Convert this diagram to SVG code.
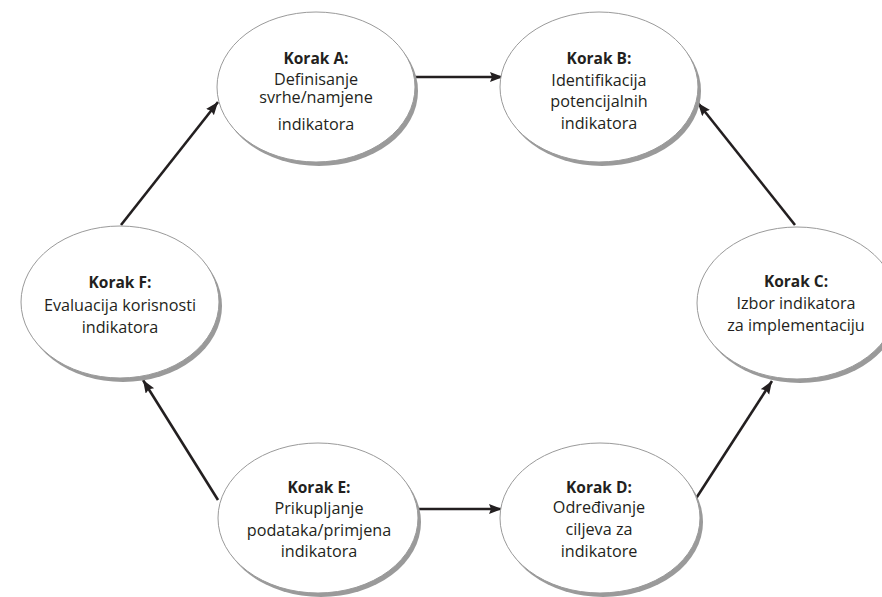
<svg xmlns="http://www.w3.org/2000/svg" width="882" height="597" viewBox="0 0 882 597">
<defs>
<marker id="ah" markerUnits="userSpaceOnUse" markerWidth="14" markerHeight="12" refX="13" refY="5" orient="auto">
<path d="M0,0 L13,5 L0,10 L2,5 z" fill="#231f20"/>
</marker>
</defs>
<style>
.sh{fill:#9a9a9a;stroke:none}
.el{fill:#fff;stroke:#9a9a9a;stroke-width:1}
.t{font-family:"Open Sans","Liberation Sans",sans-serif;font-size:16.2px;fill:#231f20;text-anchor:middle}
.b{font-weight:bold;font-size:15.5px}
.c{stroke:#231f20;stroke-width:2.6;fill:none;marker-end:url(#ah)}
</style>
<rect width="882" height="597" fill="#fff"/>
<g id="connectors">
<line class="c" x1="415" y1="77" x2="503" y2="77"/>
<line class="c" x1="416" y1="509" x2="502" y2="509"/>
<line class="c" x1="695" y1="500" x2="772" y2="381"/>
<line class="c" x1="795" y1="225" x2="698" y2="103"/>
<line class="c" x1="218" y1="500" x2="143" y2="380"/>
<line class="c" x1="121" y1="225" x2="218" y2="102"/>
</g>
<g id="nodeA">
<ellipse class="sh" cx="319" cy="91" rx="99" ry="75"/>
<ellipse class="el" cx="316" cy="87" rx="99" ry="75"/>
<text class="t b" x="316" y="64">Korak A:</text>
<text class="t" x="316" y="85">Definisanje</text>
<text class="t" x="316" y="103">svrhe/namjene</text>
<text class="t" x="316" y="130">indikatora</text>
</g>
<g id="nodeB">
<ellipse class="sh" cx="602" cy="91" rx="99" ry="75"/>
<ellipse class="el" cx="599" cy="87" rx="99" ry="75"/>
<text class="t b" x="599" y="64">Korak B:</text>
<text class="t" x="599" y="86">Identifikacija</text>
<text class="t" x="599" y="107">potencijalnih</text>
<text class="t" x="599" y="129">indikatora</text>
</g>
<g id="nodeC">
<ellipse class="sh" cx="800" cy="307" rx="100" ry="76"/>
<ellipse class="el" cx="797" cy="303" rx="100" ry="76"/>
<text class="t b" x="796" y="287">Korak C:</text>
<text class="t" x="796" y="309">Izbor indikatora</text>
<text class="t" x="796" y="331">za implementaciju</text>
</g>
<g id="nodeD">
<ellipse class="sh" cx="603" cy="522" rx="100" ry="75"/>
<ellipse class="el" cx="600" cy="518" rx="100" ry="75"/>
<text class="t b" x="599" y="493">Korak D:</text>
<text class="t" x="599" y="513">Određivanje</text>
<text class="t" x="599" y="535">ciljeva za</text>
<text class="t" x="599" y="557">indikatore</text>
</g>
<g id="nodeE">
<ellipse class="sh" cx="321" cy="522" rx="100" ry="75"/>
<ellipse class="el" cx="318" cy="518" rx="100" ry="75"/>
<text class="t b" x="319" y="493">Korak E:</text>
<text class="t" x="319" y="514">Prikupljanje</text>
<text class="t" x="319" y="536">podataka/primjena</text>
<text class="t" x="319" y="557">indikatora</text>
</g>
<g id="nodeF">
<ellipse class="sh" cx="123" cy="306" rx="99" ry="76"/>
<ellipse class="el" cx="120" cy="302" rx="99" ry="76"/>
<text class="t b" x="120" y="288">Korak F:</text>
<text class="t" x="120" y="311">Evaluacija korisnosti</text>
<text class="t" x="120" y="333">indikatora</text>
</g>
</svg>
